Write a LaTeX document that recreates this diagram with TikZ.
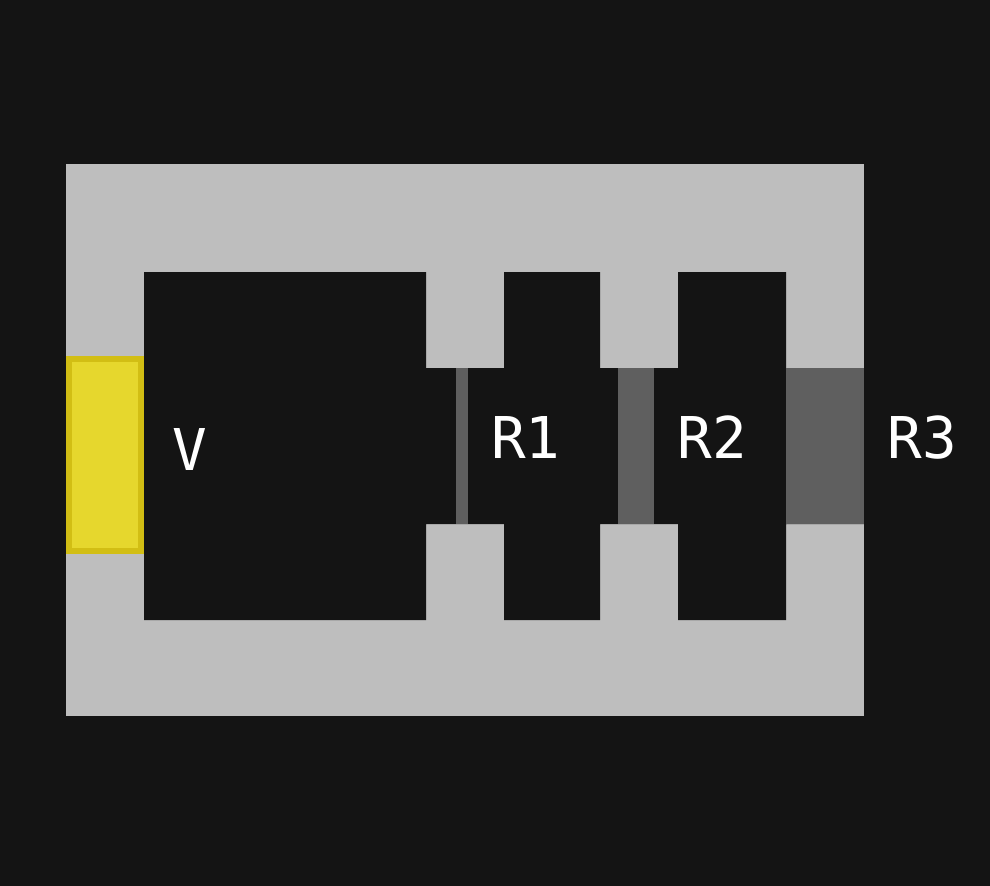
\documentclass[tikz,border=0pt]{standalone}
\usepackage{fontspec}
\setmonofont{DejaVu Sans Mono}
\definecolor{bgc}{HTML}{141414}
\definecolor{frameC}{HTML}{BEBEBE}
\definecolor{barC}{HTML}{5F5F5F}
\definecolor{battF}{HTML}{E6D72D}
\definecolor{battE}{HTML}{D2BE14}
\tikzset{
  wire/.style={fill=frameC,draw=none},
  resist/.style={fill=barC,draw=none},
  lbl/.style={text=white,inner sep=0pt,outer sep=0pt,anchor=base west,font=\ttfamily\fontsize{57.6bp}{60bp}\selectfont}
}
\begin{document}
\begin{tikzpicture}[x=1bp,y=-1bp]
\useasboundingbox (0,0) rectangle (990,886);
\fill[bgc] (0,0) rectangle (990,886);
% frame
\fill[wire] (66,164) rectangle (864,368);
\fill[wire] (66,524) rectangle (864,716);
\fill[bgc] (144,272) -- (426,272) -- (426,368) -- (504,368) -- (504,272) -- (600,272) -- (600,368) -- (678,368) -- (678,272) -- (786,272) -- (786,368) -- (864,368) -- (864,524) -- (786,524) -- (786,620) -- (678,620) -- (678,524) -- (600,524) -- (600,620) -- (504,620) -- (504,524) -- (426,524) -- (426,620) -- (144,620) -- cycle;
\fill[wire] (66,272) rectangle (144,620);
% resistors
\fill[resist] (456,368) rectangle (468,524);
\fill[resist] (618,368) rectangle (654,524);
\fill[resist] (786,368) rectangle (864,524);
% battery
\fill[battE] (66,356) rectangle (144,554);
\fill[battF] (72,362) rectangle (138,548);
% labels
\node[lbl] (v) at (172,470) {V};
\node[lbl] (r1) at (491,458) {R1};
\node[lbl] (r2) at (677.5,458) {R2};
\node[lbl] (r3) at (887.5,458) {R3};
\end{tikzpicture}
\end{document}
